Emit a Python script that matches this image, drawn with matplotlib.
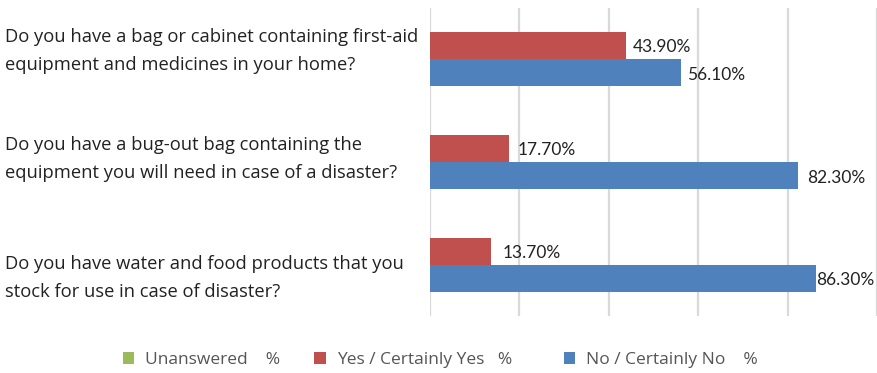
import matplotlib
matplotlib.use("Agg")
import matplotlib.pyplot as plt
from matplotlib.patches import Patch
from matplotlib import transforms
import numpy as np

questions = [
    "Do you have a bag or cabinet containing first-aid\nequipment and medicines in your home?",
    "Do you have a bug-out bag containing the\nequipment you will need in case of a disaster?",
    "Do you have water and food products that you\nstock for use in case of disaster?",
]
series_names = ["Unanswered    %", "Yes / Certainly Yes   %    ", "No / Certainly No    %"]
unanswered = [0.0, 0.0, 0.0]
yes_vals = [43.9, 17.7, 13.7]
no_vals = [56.1, 82.3, 86.3]
xticks = [0, 20, 40, 60, 80, 100]

GREEN = "#9BBB59"
RED = "#C0504D"
BLUE = "#4F81BD"
TXT = "#222222"

W, H = 877, 373
fig = plt.figure(figsize=(W / 100, H / 100), dpi=100)
ax = fig.add_axes([430 / W, 1 - 316 / H, 1 - 430 / W, (316 - 8) / H])

y = np.arange(len(questions))
h = 0.263
ax.barh(y - h / 2, yes_vals, height=h, color=RED, edgecolor="none", zorder=3)
ax.barh(y + h / 2, no_vals, height=h, color=BLUE, edgecolor="none", zorder=3)

ax.set_xlim(0, 100)
ax.set_ylim(2.5, -0.5)
ax.set_xticks(xticks)
ax.set_yticks([])
ax.tick_params(axis="x", length=0, labelbottom=False)
ax.grid(axis="x", color="#D9D9D9", linewidth=1.6, zorder=0)
for s in ax.spines.values():
    s.set_visible(False)

# value labels
yes_off = [7, 9, 11]
no_off = [6, 9, 0]
for i in range(len(questions)):
    ax.annotate(f"{yes_vals[i]:.2f}%", (yes_vals[i], y[i] - h / 2), xytext=(yes_off[i] * 0.72, -1),
                textcoords="offset points", ha="left", va="center", fontsize=12.5,
                family="Lato", color=TXT)
    ax.annotate(f"{no_vals[i]:.2f}%", (no_vals[i], y[i] + h / 2), xytext=(no_off[i] * 0.72, -1.5),
                textcoords="offset points", ha="left", va="center", fontsize=12.5,
                family="Lato", color=TXT)

# question labels
label_dy = [6, 2, -9.5]
trans = transforms.blended_transform_factory(fig.transFigure, ax.transData)
for i, q in enumerate(questions):
    t = transforms.offset_copy(trans, fig=fig, x=0, y=label_dy[i], units="points")
    fig.text(5 / W, y[i], q, transform=t, ha="left", va="center", fontsize=13.2,
             family="Open Sans", color=TXT, linespacing=1.68)

handles = [Patch(facecolor=c, edgecolor="none") for c in (GREEN, RED, BLUE)]
fig.legend(handles, series_names, loc="center", bbox_to_anchor=(440.5 / W, 1 - 360 / H),
           ncol=3, frameon=False, handlelength=0.64, handleheight=0.64,
           handletextpad=0.64, columnspacing=1.96, prop={"family": "Open Sans", "size": 12.5},
           labelcolor="#555555")

fig.savefig("out.png", dpi=100)
